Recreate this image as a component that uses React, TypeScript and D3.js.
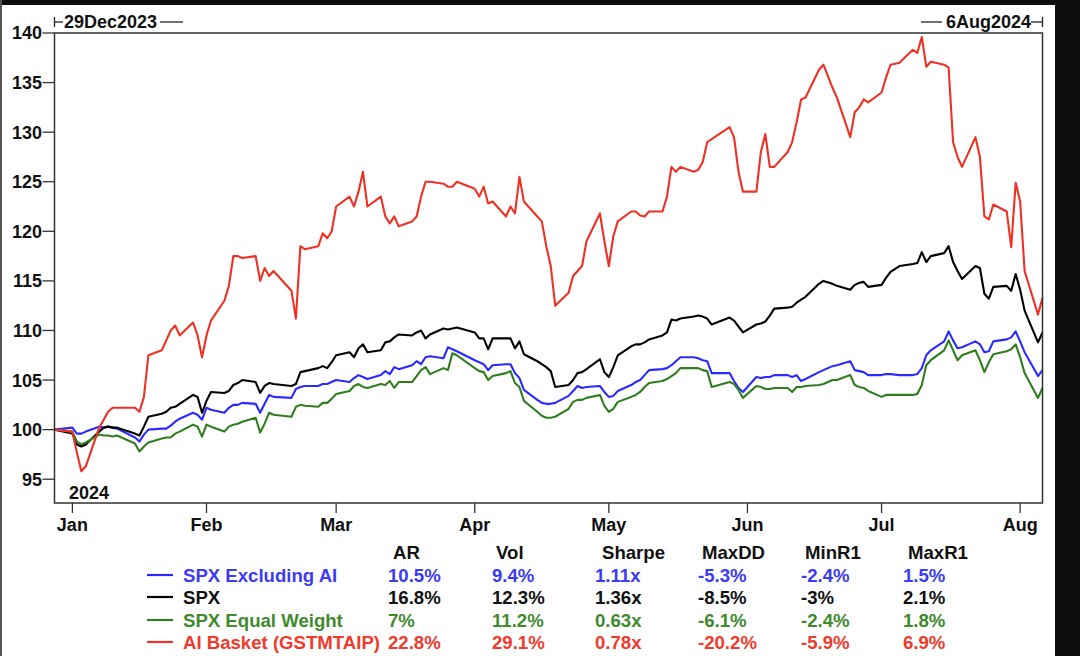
import React from "react";
import * as d3 from "d3";

const dates: string[] = [
  "2023-12-29",
  "2024-01-02","2024-01-03","2024-01-04","2024-01-05","2024-01-08","2024-01-09","2024-01-10","2024-01-11","2024-01-12",
  "2024-01-16","2024-01-17","2024-01-18","2024-01-19","2024-01-22","2024-01-23","2024-01-24","2024-01-25","2024-01-26",
  "2024-01-29","2024-01-30","2024-01-31",
  "2024-02-01","2024-02-02","2024-02-05","2024-02-06","2024-02-07","2024-02-08","2024-02-09","2024-02-12","2024-02-13",
  "2024-02-14","2024-02-15","2024-02-16","2024-02-20","2024-02-21","2024-02-22","2024-02-23","2024-02-26","2024-02-27",
  "2024-02-28","2024-02-29",
  "2024-03-01","2024-03-04","2024-03-05","2024-03-06","2024-03-07","2024-03-08","2024-03-11","2024-03-12","2024-03-13",
  "2024-03-14","2024-03-15","2024-03-18","2024-03-19","2024-03-20","2024-03-21","2024-03-22","2024-03-25","2024-03-26",
  "2024-03-27","2024-03-28",
  "2024-04-01","2024-04-02","2024-04-03","2024-04-04","2024-04-05","2024-04-08","2024-04-09","2024-04-10","2024-04-11",
  "2024-04-12","2024-04-15","2024-04-16","2024-04-17","2024-04-18","2024-04-19","2024-04-22","2024-04-23","2024-04-24",
  "2024-04-25","2024-04-26","2024-04-29","2024-04-30",
  "2024-05-01","2024-05-02","2024-05-03","2024-05-06","2024-05-07","2024-05-08","2024-05-09","2024-05-10","2024-05-13",
  "2024-05-14","2024-05-15","2024-05-16","2024-05-17","2024-05-20","2024-05-21","2024-05-22","2024-05-23","2024-05-24",
  "2024-05-28","2024-05-29","2024-05-30","2024-05-31",
  "2024-06-03","2024-06-04","2024-06-05","2024-06-06","2024-06-07","2024-06-10","2024-06-11","2024-06-12","2024-06-13",
  "2024-06-14","2024-06-17","2024-06-18","2024-06-20","2024-06-21","2024-06-24","2024-06-25","2024-06-26","2024-06-27",
  "2024-06-28",
  "2024-07-01","2024-07-02","2024-07-03","2024-07-05","2024-07-08","2024-07-09","2024-07-10","2024-07-11","2024-07-12",
  "2024-07-15","2024-07-16","2024-07-17","2024-07-18","2024-07-19","2024-07-22","2024-07-23","2024-07-24","2024-07-25",
  "2024-07-26","2024-07-29","2024-07-30","2024-07-31",
  "2024-08-01","2024-08-02","2024-08-05","2024-08-06",
];

const spxExAI: number[] = [
  100,
  100.2, 99.6, 99.6, 99.8, 100.3, 100.2, 100.3, 100.2, 100.1,
  99.2, 98.8, 99.5, 100, 100.1, 100.1, 100.4, 100.8, 101.1,
  101.7, 101.5, 101,
  102.2, 102, 101.7, 102.2, 102.5, 102.5, 102.7, 102.6, 101.7,
  102.6, 103.5, 103.3, 103.2, 104.1, 104.3, 104.4, 104.4, 104.6,
  104.6, 104.8,
  105, 104.8, 105.2, 105.5, 105.3, 105.1, 105.5, 105.9, 105.6,
  106.3, 106.1, 106.5, 106.9, 106.6, 107.3, 107.4, 107.2, 108.3,
  108.1, 107.9,
  107, 106.8, 106.6, 106, 106.5, 106.6, 106.6, 105.7, 105.2,
  104, 103, 102.7, 102.6, 102.6, 102.7, 103.4, 103.9, 104.4,
  104.2, 104.3, 104.4, 103.8,
  103.3, 103.4, 103.9, 104.5, 104.8, 105, 105.5, 106, 106.1,
  106.2, 106.5, 106.9, 107.3, 107.3, 107.2, 107, 106.9, 105.7,
  105.7, 104.9, 104.2, 103.8,
  105.3, 105.2, 105.3, 105.3, 105.5, 105.5, 105.3, 105.5, 104.9,
  105.1, 105.8, 106, 106.4, 106.5, 106.9, 106, 105.9, 105.8,
  105.5,
  105.5, 105.6, 105.6, 105.5, 105.5, 105.6, 106.2, 107.5, 108,
  108.9, 109.9, 109, 108.2, 108.3, 108.9, 108.6, 107.8, 107.9,
  108.9, 109.1, 109.3, 109.9,
  108.9, 107.8, 105.4, 106,
];

const spx: number[] = [
  100,
  99.6, 98.5, 98.3, 98.5, 99.8, 100.2, 100.3, 100.2, 100.2,
  99.6, 99.4, 100.3, 101.3, 101.6, 101.8, 102.2, 102.3, 102.6,
  103.5, 103.3, 101.7,
  102.9, 103.8, 103.7, 103.9, 104.5, 104.7, 105, 104.8, 103.7,
  104.4, 104.7, 104.6, 104.4, 104.6, 105.8, 105.9, 106.2, 106.4,
  106.2, 106.8,
  107.5, 107.8, 107.3, 108.2, 108.6, 107.8, 108, 108.8, 108.9,
  109.3, 109.6, 109.5, 109.8, 110, 109.2, 109.6, 110.2, 110.1,
  110.2, 110.3,
  109.8, 109.2, 109.2, 108.1, 109.2, 109.2, 109.2, 108.2, 108.9,
  107.6, 106.9, 106.6, 106.3, 105.9, 104.3, 104.5, 105, 105.7,
  105.8, 106.1, 107.1, 105.8,
  105.3, 106.3, 107.5, 108.4, 108.6, 108.6, 108.8, 109.1, 109.5,
  109.8, 111.1, 111, 111.2, 111.4, 111.5, 111.4, 111.2, 110.6,
  111.3, 111, 110.4, 109.8,
  110.6, 110.7, 110.9, 111.5, 112.2, 112.3, 112.4, 112.8, 113.1,
  113.4, 114.7, 115, 114.7, 114.5, 114.1, 114.6, 114.8, 114.9,
  114.4,
  114.6, 115.3, 115.9, 116.5, 116.7, 116.8, 117.9, 116.9, 117.5,
  117.8, 118.5, 116.9, 116, 115.2, 116.5, 116.3, 113.7, 113.2,
  114.4, 114.5, 114, 115.7,
  114.1, 112, 108.8, 109.8,
];

const spxEqualWeight: number[] = [
  100,
  99.8, 98.8, 98.5, 98.7, 99.5, 99.4, 99.4, 99.3, 99.4,
  98.6, 97.8, 98.3, 98.7, 99.1, 99.2, 99.2, 99.6, 99.8,
  100.5, 100.3, 99.3,
  100.5, 100.3, 99.8, 100.3, 100.5, 100.6, 100.8, 101.2, 99.7,
  100.6, 101.7, 101.5, 101.3, 102.3, 102.5, 102.4, 102.3, 102.7,
  102.7, 103.1,
  103.6, 103.9, 104.4, 104.6, 104.3, 104.2, 104.6, 104.5, 104.9,
  104.2, 104.8, 104.8, 105.4, 106, 106.3, 105.6, 106.2, 106,
  107.7, 107.5,
  106.2, 105.9, 105.8, 105, 105.4, 105.7, 105.9, 104.7, 104.3,
  102.9, 101.8, 101.4, 101.2, 101.2, 101.3, 102.1, 102.8, 103,
  103, 103.2, 103.5, 102.4,
  101.8, 102.1, 102.8, 103.3, 103.5, 103.8, 104.3, 104.7, 104.9,
  105.1, 105.4, 105.7, 106.2, 106.2, 106.2, 106, 105.9, 104.3,
  104.8, 104.6, 104, 103.2,
  104.4, 104.3, 104.1, 104.1, 104.2, 104.2, 103.8, 104.3, 104.3,
  104.4, 104.5, 104.6, 105, 105, 105.5, 104.5, 104.3, 104.2,
  103.9,
  103.3, 103.5, 103.5, 103.5, 103.5, 103.6, 104.5, 106.5, 107,
  108, 109, 108, 107, 107.5, 108, 107, 105.8, 106.8,
  107.6, 107.9, 108.1, 108.6,
  107.3, 105.7, 103.2, 104.2,
];

const aiBasket: number[] = [
  100,
  99.8, 97.7, 95.8, 96.3, 100.2, 101, 101.8, 102.2, 102.2,
  102.2, 101.8, 103.3, 107.5, 108, 109, 110, 110.5, 109.5,
  110.8, 109.5, 107.3,
  109.5, 111, 113, 114.5, 117.5, 117.5, 117.3, 117.5, 115,
  116.3, 115.5, 116, 114, 111.2, 118.5, 118.2, 118.5, 119.8,
  119.3, 120,
  122.5, 123.5, 122.5, 124, 126, 122.5, 123.5, 121.5, 120.8,
  121.5, 120.5, 121, 121.5, 123.5, 125, 125, 124.8, 124.5,
  124.5, 125,
  124.3, 123.5, 124.5, 122.8, 123, 121.5, 122.5, 121.8, 125.5,
  123, 121.5, 121, 118.5, 116.5, 112.5, 113.8, 115.5, 116,
  116.5, 119, 121.8, 119,
  116.5, 119.5, 121, 122, 122, 121.6, 121.5, 122, 122,
  123.5, 126.5, 126, 126.5, 126, 126.2, 127, 129, 129.3,
  130.5, 129.5, 126, 124,
  124, 128, 129.8, 126.5, 126.5, 128, 129, 131, 133.3,
  133.5, 136.3, 136.8, 134.5, 133.5, 129.5, 132, 132.5, 133.3,
  133,
  134, 135.5, 136.8, 137, 138.3, 138, 139.6, 136.6, 137.1,
  136.8, 136.5, 129, 127.5, 126.5, 129.5, 127.5, 121.5, 121.2,
  122.7, 122, 118.4, 124.9,
  123, 116, 111.6, 113.3,
];

const seriesNames = ["SPX Excluding AI", "SPX", "SPX Equal Weight", "AI Basket (GSTMTAIP)"];
const statHeaders = ["AR", "Vol", "Sharpe", "MaxDD", "MinR1", "MaxR1"];
const statAR = ["10.5%", "16.8%", "7%", "22.8%"];
const statVol = ["9.4%", "12.3%", "11.2%", "29.1%"];
const statSharpe = ["1.11x", "1.36x", "0.63x", "0.78x"];
const statMaxDD = ["-5.3%", "-8.5%", "-6.1%", "-20.2%"];
const statMinR1 = ["-2.4%", "-3%", "-2.4%", "-5.9%"];
const statMaxR1 = ["1.5%", "2.1%", "1.8%", "6.9%"];

const yTicks = [95, 100, 105, 110, 115, 120, 125, 130, 135, 140];
const monthTicks: [string, string][] = [
  ["2024-01-02", "Jan"], ["2024-02-01", "Feb"], ["2024-03-01", "Mar"], ["2024-04-01", "Apr"],
  ["2024-05-01", "May"], ["2024-06-01", "Jun"], ["2024-07-01", "Jul"], ["2024-08-01", "Aug"],
];
const yearLabel = "2024";
const startLabel = "29Dec2023";
const endLabel = "6Aug2024";

const lineColors = ["#2a2aff", "#000000", "#2f7d1f", "#ee3124"];
const textColors = ["#3b3bf5", "#111111", "#3f8a2e", "#f03a2c"];

const W = 1080, H = 656;
const left = 54.5, right = 1042.5, top = 33, bottom = 503;
const FONT = "'Liberation Sans', Arial, sans-serif";

export default function App() {
  const parse = d3.timeParse("%Y-%m-%d");
  const dts = dates.map((d) => parse(d) as Date);
  const x = d3.scaleTime().domain([dts[0], dts[dts.length - 1]]).range([left, right]);
  const y = d3.scaleLinear().domain([92.6, 140]).range([bottom, top]);
  const allSeries = [spxExAI, spx, spxEqualWeight, aiBasket];
  const line = d3
    .line<number>()
    .x((_, i) => x(dts[i]))
    .y((v) => y(v));
  const stats = [statAR, statVol, statSharpe, statMaxDD, statMinR1, statMaxR1];
  const valueX = [388, 492, 595, 698, 801, 903];
  const headerX = [393, 496, 602, 702, 805, 908];
  const rowY = [582, 604, 627, 649];
  const fs = 18;
  const tfs = 18.6;

  return (
    <svg
      width={W}
      height={H}
      style={{ position: "fixed", left: 0, top: 0, background: "#fff" }}
      fontFamily={FONT}
      fontWeight="bold"
    >
      <rect x={0} y={0} width={W} height={H} fill="#fff" />
      {/* screenshot borders */}
      <rect x={0} y={0} width={W} height={5} fill="#0e0e0e" />
      <rect x={1055} y={0} width={W - 1055} height={H} fill="#0e0e0e" />
      <rect x={0} y={0} width={2} height={H} fill="#555" />

      {/* date range header */}
      <g stroke="#222" strokeWidth={1.3}>
        <line x1={left} x2={left} y1={17} y2={27} />
        <line x1={left} x2={63} y1={22} y2={22} />
        <line x1={160} x2={183} y1={22} y2={22} />
        <line x1={921} x2={942} y1={22} y2={22} />
        <line x1={1031} x2={right} y1={22} y2={22} />
        <line x1={right} x2={right} y1={17} y2={27} />
      </g>
      <text x={64} y={28} fontSize={fs} fill="#111">{startLabel}</text>
      <text x={1031} y={28} fontSize={fs} fill="#111" textAnchor="end">{endLabel}</text>

      {/* y axis */}
      {yTicks.map((t) => (
        <g key={t}>
          <line x1={left - 12} x2={left} y1={y(t)} y2={y(t)} stroke="#333" strokeWidth={1.3} />
          <text x={left - 12.5} y={y(t)} dy="0.36em" fontSize={fs} fill="#111" textAnchor="end">
            {t}
          </text>
        </g>
      ))}

      {/* x axis */}
      {monthTicks.map(([d, lab]) => {
        const px = x(parse(d) as Date);
        return (
          <g key={lab}>
            <line x1={px} x2={px} y1={bottom} y2={bottom + 10} stroke="#333" strokeWidth={1.3} />
            <text x={px} y={531} fontSize={fs} fill="#111" textAnchor="middle">
              {lab}
            </text>
          </g>
        );
      })}
      <text x={69} y={499} fontSize={fs} fill="#111">{yearLabel}</text>

      {/* series */}
      {allSeries.map((s, i) => (
        <path key={i} d={line(s) || ""} fill="none" stroke={lineColors[i]} strokeWidth={2.1} strokeLinejoin="round" />
      ))}

      {/* frame */}
      <rect x={left} y={top} width={right - left} height={bottom - top} fill="none" stroke="#333" strokeWidth={1.5} />

      {/* stats table */}
      {statHeaders.map((h, j) => (
        <text key={h} x={headerX[j]} y={559} fontSize={tfs} fill="#111">
          {h}
        </text>
      ))}
      {seriesNames.map((n, i) => (
        <g key={n}>
          <line x1={147} x2={173} y1={rowY[i] - 7} y2={rowY[i] - 7} stroke={lineColors[i]} strokeWidth={2.2} />
          <text x={183} y={rowY[i]} fontSize={tfs} fill={textColors[i]}>
            {n}
          </text>
          {stats.map((col, j) => (
            <text key={j} x={valueX[j]} y={rowY[i]} fontSize={tfs} fill={textColors[i]}>
              {col[i]}
            </text>
          ))}
        </g>
      ))}
    </svg>
  );
}
